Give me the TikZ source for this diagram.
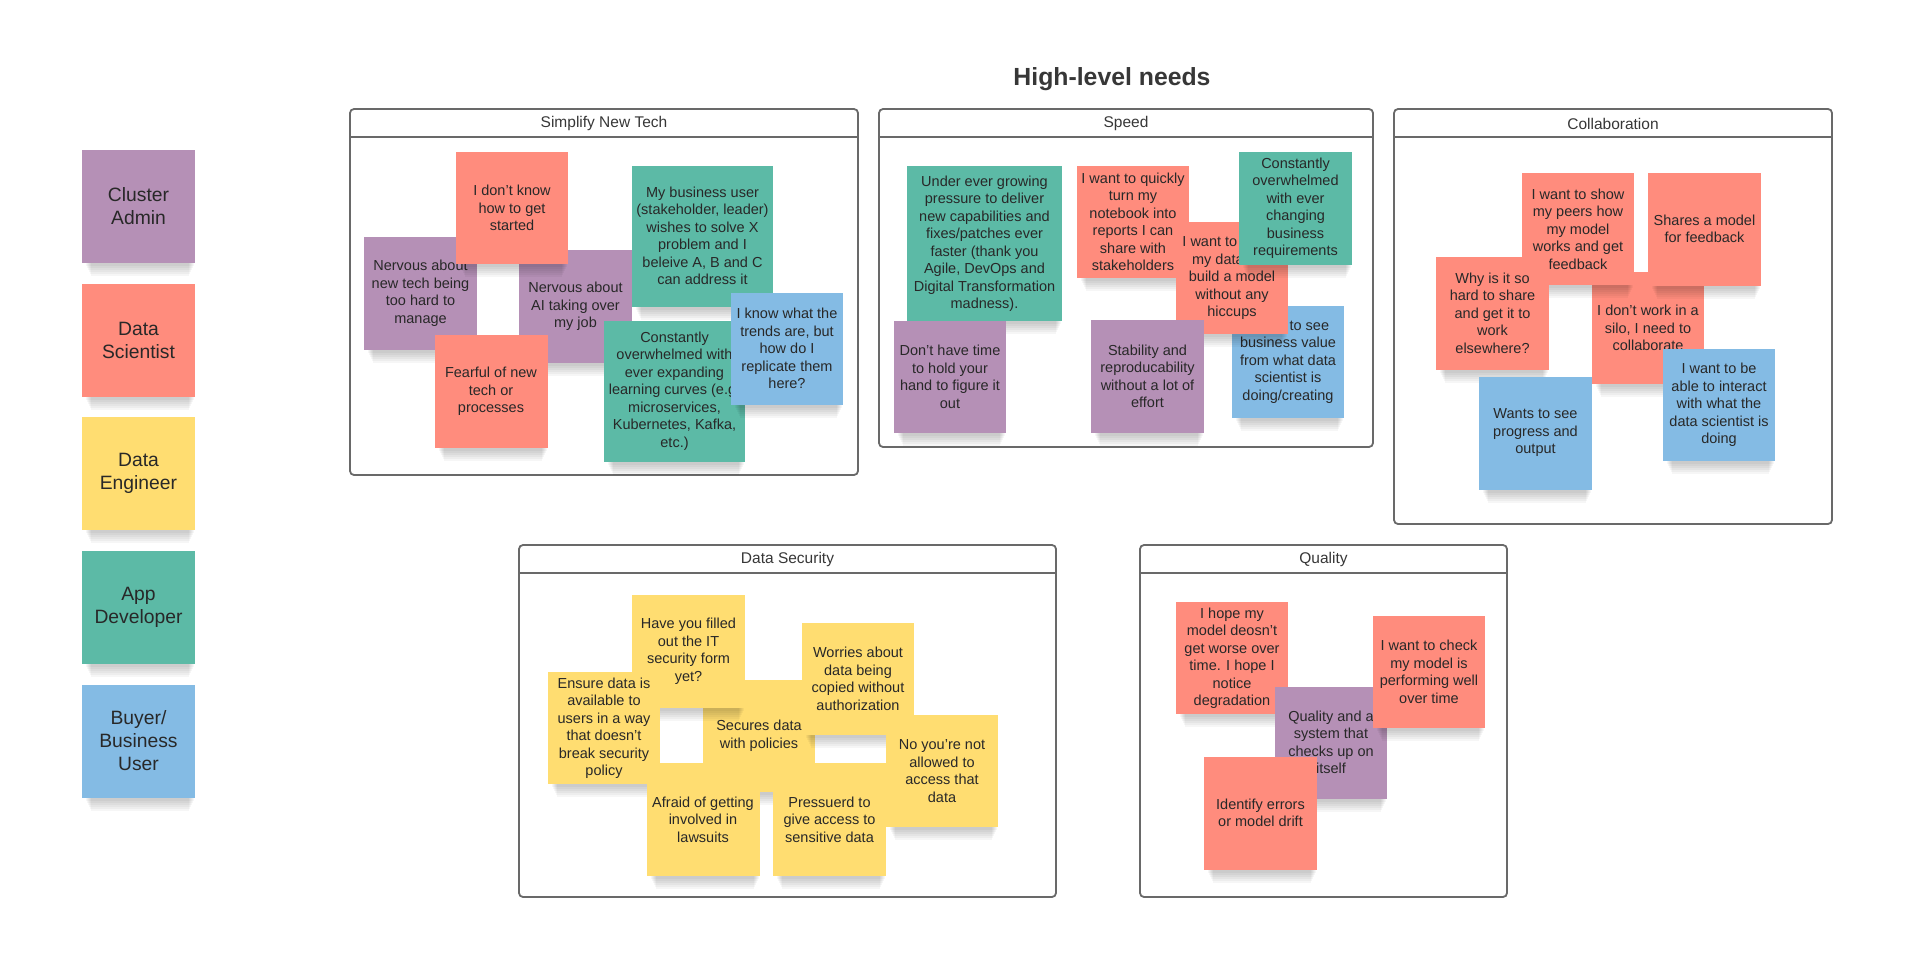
\documentclass[tikz,border=0pt]{standalone}
\usepackage{fontspec}
\setmainfont{Liberation Sans}
\definecolor{cPurple}{RGB}{181,144,182}
\definecolor{cSalmon}{RGB}{255,140,125}
\definecolor{cYellow}{RGB}{255,221,113}
\definecolor{cTeal}{RGB}{92,186,166}
\definecolor{cBlue}{RGB}{132,187,228}
\definecolor{cText}{RGB}{40,40,40}
\definecolor{cLine}{RGB}{105,105,105}
\definecolor{cHead}{RGB}{55,55,55}
\newcommand\stickyfont{\fontsize{14.5}{17.5}\selectfont}
\newcommand\legendfont{\fontsize{19.3}{23}\selectfont}
\newcommand\headfont{\fontsize{15.5}{18}\selectfont}
% #1 options, #2 name, #3 x, #4 y, #5 size, #6 text
\newcommand\sticky[6][]{%
  \foreach \k in {1,...,6}{%
    \fill[black, opacity=0.035]
      ({#3-#5/2+3+\k},{#4+#5/2-4}) rectangle ({#3+#5/2-\k},{#4+#5/2+1+2*\k});
  }%
  \node[stickybox=#5, #1] (#2) at (#3,#4) {#6};%
}
\begin{document}
\begin{tikzpicture}[x=1pt,y=-1pt,
  stickybox/.style={rectangle, inner sep=0pt, minimum width=#1, minimum height=#1,
    align=center, text=cText, font=\stickyfont},
  stickybox/.default=113,
  legendbox/.style={font=\legendfont},
  sP/.style={fill=cPurple},
  sS/.style={fill=cSalmon},
  sY/.style={fill=cYellow},
  sT/.style={fill=cTeal},
  sB/.style={fill=cBlue},
  panel/.style={rectangle, draw=cLine, line width=1.8pt, rounded corners=4pt, fill=white, inner sep=0pt},
  hdrline/.style={draw=cLine, line width=1.8pt},
  hdr/.style={font=\headfont, text=cHead, inner sep=0pt}
]
\useasboundingbox (0,0) rectangle (1920,975);

% title
\node[font=\bfseries\fontsize{24.8}{30}\selectfont, text=cHead, inner sep=0pt] (title) at (1112,79.5) {High-level needs};

% legend
\sticky[legendbox, sP]{legCA}{138.5}{206.5}{113}{Cluster\\Admin}
\sticky[legendbox, sS]{legDS}{138.5}{340}{113}{Data\\Scientist}
\sticky[legendbox, sY]{legDE}{138.5}{473.5}{113}{Data\\Engineer}
\sticky[legendbox, sT]{legAD}{138.5}{607}{113}{App\\Developer}
\sticky[legendbox, sB]{legBU}{138.5}{741}{113}{Buyer/\\Business\\User}

% panels
\node[panel, minimum width=508, minimum height=366] (bSimp) at (604,292) {};
\draw[hdrline] ([yshift=-29pt]bSimp.north west) -- ([yshift=-29pt]bSimp.north east);
\node[hdr] (hSimp) at ([yshift=-15.5pt]bSimp.north) {Simplify New Tech};

\node[panel, minimum width=494, minimum height=338] (bSpeed) at (1126,278) {};
\draw[hdrline] ([yshift=-29pt]bSpeed.north west) -- ([yshift=-29pt]bSpeed.north east);
\node[hdr] (hSpeed) at ([yshift=-15.5pt]bSpeed.north) {Speed};

\node[panel, minimum width=438, minimum height=415] (bColl) at (1613,316.5) {};
\draw[hdrline] ([yshift=-29pt]bColl.north west) -- ([yshift=-29pt]bColl.north east);
\node[hdr] (hColl) at ([yshift=-15.5pt]bColl.north) {Collaboration};

\node[panel, minimum width=537, minimum height=352] (bSec) at (787.5,721) {};
\draw[hdrline] ([yshift=-29pt]bSec.north west) -- ([yshift=-29pt]bSec.north east);
\node[hdr] (hSec) at ([yshift=-15.5pt]bSec.north) {Data Security};

\node[panel, minimum width=367, minimum height=352] (bQual) at (1323.5,721) {};
\draw[hdrline] ([yshift=-29pt]bQual.north west) -- ([yshift=-29pt]bQual.north east);
\node[hdr] (hQual) at ([yshift=-15.5pt]bQual.north) {Quality};

% Simplify New Tech
\sticky[sP]{s2}{420.5}{293}{113}{Nervous about\\new tech being\\too hard to\\manage}
\sticky[sP]{s3}{575.5}{306.5}{113}{Nervous about\\AI taking over\\my job}
\sticky[sS]{s1}{512}{208}{112}{I don't know\\how to get\\started}
\sticky[sS]{s7}{491}{391.5}{113}{Fearful of new\\tech or\\processes}
\sticky[sT]{s4}{702.5}{236}{141}{My business user\\(stakeholder, leader)\\wishes to solve X\\problem and I\\beleive A, B and C\\can address it}
\sticky[sT]{s5}{674.5}{391}{141}{Constantly\\overwhelmed with\\ever expanding\\learning curves (e.g.\\microservices,\\Kubernetes, Kafka,\\etc.)}
\sticky[sB]{s6}{787}{348.5}{112}{I know what the\\trends are, but\\how do I\\replicate them\\here?}

% Speed
\sticky[sT]{p1}{984.5}{243.5}{155}{Under ever growing\\pressure to deliver\\new capabilities and\\fixes/patches ever\\faster (thank you\\Agile, DevOps and\\Digital Transformation\\madness).}
\sticky[sP]{p2}{950}{377}{112}{Don't have time\\to hold your\\hand to figure it\\out}
\sticky[sS]{p3}{1133}{222}{112}{I want to quickly\\turn my\\notebook into\\reports I can\\share with\\stakeholders}
\sticky[sB]{p7}{1288}{362}{112}{\phantom{I want }to see\\business value\\from what data\\scientist is\\doing/creating}
\sticky[sS]{p4}{1232}{278}{112}{I want to\phantom{ import}\\my data\phantom{ and}\\build a model\\without any\\hiccups}
\sticky[sT]{p5}{1295.5}{208}{113}{Constantly\\overwhelmed\\with ever\\changing\\business\\requirements}
\sticky[sP]{p6}{1147.5}{376.5}{113}{Stability and\\reproducability\\without a lot of\\effort}

% Collaboration
\sticky[sS]{c4}{1648}{328}{112}{I don't work in a\\silo, I need to\\collaborate}
\sticky[sS]{c1}{1578}{229}{112}{I want to show\\my peers how\\my model\\works and get\\feedback}
\sticky[sS]{c2}{1704.5}{229}{113}{Shares a model\\for feedback}
\sticky[sS]{c3}{1492.5}{313}{113}{Why is it so\\hard to share\\and get it to\\work\\elsewhere?}
\sticky[sB]{c5}{1535.5}{433}{113}{Wants to see\\progress and\\output}
\sticky[sB]{c6}{1719}{405}{112}{I want to be\\able to interact\\with what the\\data scientist is\\doing}

% Data Security
\sticky[sY]{d3}{759}{735.5}{112}{Secures data\\with policies}
\sticky[sY]{d1}{688.5}{651}{113}{Have you filled\\out the IT\\security form\\yet?}
\sticky[sY]{d2}{858}{679}{112}{Worries about\\data being\\copied without\\authorization}
\sticky[sY]{d4}{604}{728}{112}{Ensure data is\\available to\\users in a way\\that doesn't\\break security\\policy}
\sticky[sY]{d5}{942}{771}{112}{No you're not\\allowed to\\access that\\data}
\sticky[sY]{d6}{703}{819.5}{113}{Afraid of getting\\involved in\\lawsuits}
\sticky[sY]{d7}{829.5}{819.5}{113}{Pressuerd to\\give access to\\sensitive data}

% Quality
\sticky[sS]{q1}{1232}{658}{112}{I hope my\\model deosn't\\get worse over\\time. I hope I\\notice\\degradation}
\sticky[sP]{q3}{1331}{742.5}{112}{Quality and a\\system that\\checks up on\\itself}
\sticky[sS]{q2}{1429}{672}{112}{I want to check\\my model is\\performing well\\over time}
\sticky[sS]{q4}{1260.5}{813}{113}{Identify errors\\or model drift}
\end{tikzpicture}
\end{document}
